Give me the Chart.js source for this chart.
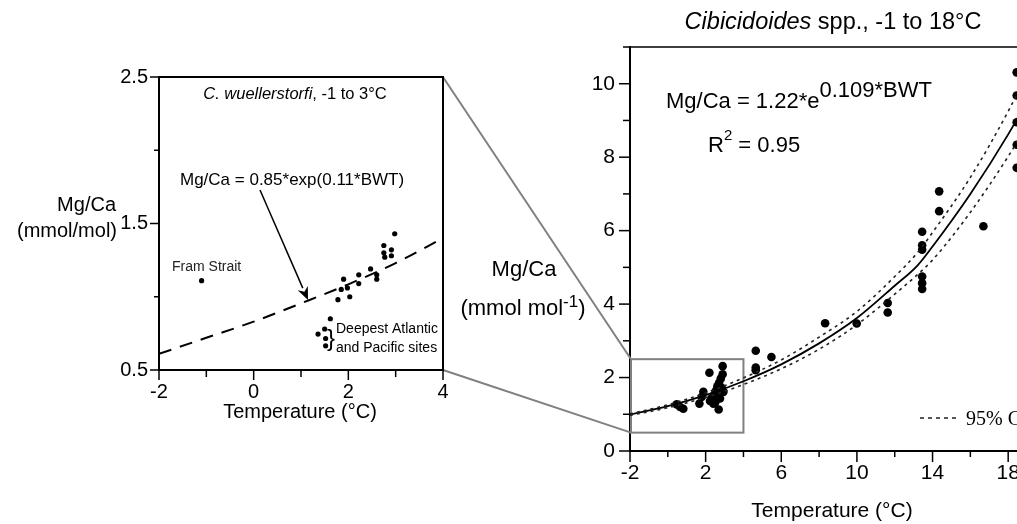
<!DOCTYPE html>
<html>
<head>
<meta charset="utf-8">
<script src="https://cdn.jsdelivr.net/npm/chart.js@4/dist/chart.umd.min.js"></script>
<style>
  html, body { margin: 0; padding: 0; background: #fff; overflow: hidden; width: 1017px; height: 524px; }
  #wrap { position: relative; width: 1017px; height: 524px; overflow: hidden; }
  canvas { position: absolute; left: 0; top: 0; }
</style>
</head>
<body>
<div id="wrap">
  <canvas id="main" width="1100" height="524"></canvas>
  <canvas id="inset" width="1017" height="524"></canvas>
</div>
<script>
const SANS = '"Liberation Sans", Arial, Helvetica, sans-serif';
const SERIF = '"Liberation Serif", "Times New Roman", serif';

// ---- C. wuellerstorfi, -1 to 3 °C (inset panel) ----
const wuelTemp = [-1.10, 1.78, 1.85, 1.90, 1.98, 2.03, 2.22, 2.22, 2.47, 2.60, 2.60, 2.75, 2.75, 2.77, 2.91, 2.91, 2.98,
                  1.62, 1.50, 1.36, 1.52, 1.52];
const wuelMgCa = [1.11, 0.98, 1.05, 1.12, 1.06, 1.00, 1.15, 1.09, 1.19, 1.15, 1.12, 1.35, 1.30, 1.27, 1.32, 1.28, 1.43,
                  0.85, 0.78, 0.745, 0.715, 0.665];
// Mg/Ca = 0.85*exp(0.11*BWT), dashed
const wuelFitTemp = [-2, -1, 0, 1, 2, 3, 4];
const wuelFitMgCa = [0.61, 0.72, 0.83, 0.955, 1.085, 1.23, 1.40];

// ---- Cibicidoides spp., -1 to 18 °C (main panel) ----
const cibTemp = [0.47, 0.65, 0.82, 1.67, 1.79, 1.88, 2.20, 2.23, 2.32, 2.35, 2.41, 2.45, 2.51, 2.53, 2.60, 2.62, 2.69, 2.71,
                 2.76, 2.80, 2.85, 2.90, 2.90, 2.94, 4.65, 4.65, 4.65, 5.48, 8.32, 9.99, 11.63, 11.63,
                 13.45, 13.45, 13.45, 13.45, 13.45, 13.45, 14.35, 14.35, 16.69, 18.45, 18.45, 18.45, 18.45, 18.45];
const cibMgCa = [1.27, 1.20, 1.15, 1.29, 1.47, 1.61, 2.13, 1.36, 1.44, 1.38, 1.29, 1.52, 1.33, 1.63, 1.58, 1.76, 1.13, 1.86,
                 1.43, 1.97, 1.72, 2.31, 2.09, 1.61, 2.73, 2.27, 2.20, 2.56, 3.48, 3.47, 4.03, 3.77,
                 5.97, 5.60, 5.48, 4.75, 4.57, 4.41, 7.07, 6.53, 6.12, 10.31, 9.68, 8.95, 8.34, 7.71];
// Mg/Ca = 1.22*e^(0.109*BWT) with its 95% confidence band
const cibFitTemp  = [-2, 0, 2, 4, 6, 8, 10, 12, 13.2, 14, 16, 18, 19.5];
const cibFitMgCa  = [0.99, 1.22, 1.52, 1.90, 2.36, 2.93, 3.62, 4.50, 5.05, 5.57, 7.00, 8.62, 10.0];
const cibUpperMgCa = [1.01, 1.26, 1.58, 1.99, 2.48, 3.10, 3.80, 4.75, 5.40, 5.95, 7.45, 9.25, 10.8];
const cibLowerMgCa = [0.97, 1.18, 1.46, 1.81, 2.24, 2.77, 3.44, 4.27, 4.80, 5.20, 6.50, 8.02, 9.3];

// zoom box on the main panel (same range as the inset axes)
const boxTemp = [-2, 4];
const boxMgCa = [0.5, 2.5];

// labelled ticks
const insetXLabels = [-2, 0, 2, 4];
const insetYLabels = [0.5, 1.5, 2.5];
const mainXLabels = [-2, 2, 6, 10, 14, 18];
const mainYLabels = [0, 2, 4, 6, 8, 10];

const pts = (xs, ys) => xs.map((x, i) => ({ x: x, y: ys[i] }));
const has = (arr, v) => arr.some(a => Math.abs(a - v) < 1e-6);

// outward tick marks, long at labelled values and short elsewhere
function drawTickMarks(chart, xLabels, yLabels, len) {
  const ctx = chart.ctx, a = chart.chartArea, sx = chart.scales.x, sy = chart.scales.y;
  ctx.save();
  ctx.strokeStyle = '#000';
  ctx.lineWidth = 1.5;
  sx.ticks.forEach(t => {
    const px = sx.getPixelForValue(t.value);
    if (px > a.right + 1) return;
    const l = has(xLabels, t.value) ? len.xMajor : len.xMinor;
    ctx.beginPath(); ctx.moveTo(px, a.bottom); ctx.lineTo(px, a.bottom + l); ctx.stroke();
  });
  sy.ticks.forEach(t => {
    const py = sy.getPixelForValue(t.value);
    const l = has(yLabels, t.value) ? len.yMajor : len.yMinor;
    ctx.beginPath(); ctx.moveTo(a.left, py); ctx.lineTo(a.left - l, py); ctx.stroke();
  });
  ctx.restore();
}

// runs of text in different fonts on one baseline
function mixedText(ctx, parts, x, y, align) {
  ctx.save();
  ctx.textAlign = 'left';
  let total = 0;
  parts.forEach(p => { ctx.font = p.font; total += ctx.measureText(p.t).width; });
  let cx = align === 'center' ? x - total / 2 : (align === 'right' ? x - total : x);
  parts.forEach(p => {
    ctx.font = p.font;
    ctx.fillText(p.t, cx, y + (p.dy || 0));
    cx += ctx.measureText(p.t).width;
  });
  ctx.restore();
}

function arrow(ctx, x1, y1, x2, y2) {
  const ang = Math.atan2(y2 - y1, x2 - x1), hl = 13, hw = 5.5;
  const bx = x2 - hl * Math.cos(ang), by = y2 - hl * Math.sin(ang);
  ctx.beginPath(); ctx.moveTo(x1, y1); ctx.lineTo(bx, by); ctx.stroke();
  ctx.beginPath();
  ctx.moveTo(x2, y2);
  ctx.lineTo(bx + hw * Math.sin(ang), by - hw * Math.cos(ang));
  ctx.lineTo(bx + 4 * Math.cos(ang), by + 4 * Math.sin(ang));
  ctx.lineTo(bx - hw * Math.sin(ang), by + hw * Math.cos(ang));
  ctx.closePath(); ctx.fill();
}

const baseScale = (min, max, step, labels, fmt, pad, size) => ({
  type: 'linear', min: min, max: max,
  grid: { display: false, drawTicks: false },
  border: { display: true, width: 2, color: '#000' },
  ticks: {
    stepSize: step, padding: pad, color: '#000',
    font: { family: SANS, size: size },
    callback: v => has(labels, v) ? fmt(v) : ''
  }
});

// ---------- inset: C. wuellerstorfi ----------
const insetPlugin = {
  id: 'insetDecor',
  afterDraw(chart) {
    const ctx = chart.ctx, a = chart.chartArea;
    ctx.save();
    ctx.strokeStyle = '#000'; ctx.lineWidth = 2;
    ctx.strokeRect(a.left, a.top, a.right - a.left, a.bottom - a.top);
    ctx.restore();
    drawTickMarks(chart, insetXLabels, insetYLabels, { xMajor: 10, xMinor: 7, yMajor: 9, yMinor: 5 });

    ctx.save();
    ctx.fillStyle = '#000';
    ctx.textBaseline = 'alphabetic';
    // panel title inside the frame
    mixedText(ctx, [
      { t: 'C. wuellerstorfi', font: 'italic 16.5px ' + SANS },
      { t: ', -1 to 3°C', font: '16.5px ' + SANS }
    ], 295, 99, 'center');
    // axis titles
    ctx.textAlign = 'right';
    ctx.font = '20px ' + SANS;
    ctx.fillText('Mg/Ca', 116, 211);
    ctx.fillText('(mmol/mol)', 117, 237);
    ctx.textAlign = 'center';
    ctx.fillText('Temperature (°C)', 300, 418);
    // fit annotation with arrow
    ctx.textAlign = 'left';
    ctx.font = '17px ' + SANS;
    ctx.fillText('Mg/Ca = 0.85*exp(0.11*BWT)', 180, 185);
    ctx.strokeStyle = '#000'; ctx.lineWidth = 1.5;
    arrow(ctx, 260, 190, 308, 300);
    // site labels
    ctx.font = '14px ' + SANS;
    ctx.fillStyle = '#222';
    ctx.fillText('Fram Strait', 172, 271);
    ctx.fillStyle = '#000';
    ctx.fillText('Deepest Atlantic', 336, 333);
    ctx.fillText('and Pacific sites', 336, 352);
    ctx.font = '24px ' + SANS;
    ctx.fillText('}', 327, 346);
    ctx.restore();
  }
};

const insetChart = new Chart(document.getElementById('inset'), {
  type: 'scatter',
  data: {
    datasets: [
      {
        data: pts(wuelTemp, wuelMgCa),
        backgroundColor: '#000', borderColor: '#000',
        pointRadius: 2.6, pointBorderWidth: 0
      },
      {
        data: pts(wuelFitTemp, wuelFitMgCa),
        showLine: true, borderColor: '#000', borderWidth: 2, borderDash: [13, 9],
        pointRadius: 0, cubicInterpolationMode: 'monotone', fill: false
      }
    ]
  },
  options: {
    responsive: false, animation: false, devicePixelRatio: 1,
    layout: { padding: { left: 79, top: 77, right: 574, bottom: 114 } },
    plugins: { legend: { display: false }, tooltip: { enabled: false } },
    scales: {
      x: Object.assign(baseScale(-2, 4, 1, insetXLabels, v => String(v), 10, 20),
        { afterFit: s => { s.height = 40; } }),
      y: Object.assign(baseScale(0.5, 2.5, 0.5, insetYLabels, v => v.toFixed(1), 11, 20),
        { afterFit: s => { s.width = 80; } })
    }
  },
  plugins: [insetPlugin]
});

// ---------- main: Cibicidoides spp. ----------
const mainPlugin = {
  id: 'mainDecor',
  beforeDatasetsDraw(chart) {
    const ctx = chart.ctx, sx = chart.scales.x, sy = chart.scales.y;
    const x0 = sx.getPixelForValue(boxTemp[0]) + 1, x1 = sx.getPixelForValue(boxTemp[1]);
    const y0 = sy.getPixelForValue(boxMgCa[1]), y1 = sy.getPixelForValue(boxMgCa[0]);
    ctx.save();
    ctx.strokeStyle = '#808080'; ctx.lineWidth = 2;
    ctx.strokeRect(x0, y0, x1 - x0, y1 - y0);
    // connectors to the inset frame
    const ia = insetChart.chartArea;
    ctx.beginPath();
    ctx.moveTo(ia.right, ia.top); ctx.lineTo(x0, y0);
    ctx.moveTo(ia.right, ia.bottom); ctx.lineTo(x0, y1);
    ctx.stroke();
    ctx.restore();
  },
  afterDraw(chart) {
    const ctx = chart.ctx, a = chart.chartArea;
    ctx.save();
    ctx.strokeStyle = '#000'; ctx.lineWidth = 1.5;
    ctx.beginPath(); ctx.moveTo(a.left, a.top); ctx.lineTo(a.right, a.top); ctx.lineTo(a.right, a.bottom); ctx.stroke();
    ctx.restore();
    drawTickMarks(chart, mainXLabels, mainYLabels, { xMajor: 11, xMinor: 6, yMajor: 11, yMinor: 7 });

    ctx.save();
    ctx.fillStyle = '#000';
    ctx.textBaseline = 'alphabetic';
    mixedText(ctx, [
      { t: 'Cibicidoides', font: 'italic 23.5px ' + SANS },
      { t: ' spp., -1 to 18°C', font: '23.5px ' + SANS }
    ], 833, 29, 'center');
    // fit equation
    mixedText(ctx, [
      { t: 'Mg/Ca = 1.22*e', font: '22px ' + SANS },
      { t: '0.109*BWT', font: '22px ' + SANS, dy: -11 }
    ], 666, 108, 'left');
    mixedText(ctx, [
      { t: 'R', font: '22px ' + SANS },
      { t: '2', font: '15px ' + SANS, dy: -12 },
      { t: ' = 0.95', font: '22px ' + SANS }
    ], 708, 152, 'left');
    // axis titles
    ctx.font = '22px ' + SANS;
    ctx.textAlign = 'center';
    ctx.fillText('Mg/Ca', 524, 276);
    mixedText(ctx, [
      { t: '(mmol mol', font: '22px ' + SANS },
      { t: '-1', font: '17px ' + SANS, dy: -8 },
      { t: ')', font: '22px ' + SANS }
    ], 523, 315, 'center');
    ctx.textAlign = 'center';
    ctx.font = '21px ' + SANS;
    ctx.fillText('Temperature (°C)', 832, 517);
    // confidence band key
    ctx.strokeStyle = '#222'; ctx.lineWidth = 1.5; ctx.setLineDash([4, 4]);
    ctx.beginPath(); ctx.moveTo(920, 418); ctx.lineTo(958, 418); ctx.stroke();
    ctx.setLineDash([]);
    ctx.textAlign = 'left';
    ctx.font = '20px ' + SERIF;
    ctx.fillText('95% CI', 966, 425);
    ctx.restore();
  }
};

new Chart(document.getElementById('main'), {
  type: 'scatter',
  data: {
    datasets: [
      {
        data: pts(cibFitTemp, cibUpperMgCa),
        showLine: true, borderColor: '#222', borderWidth: 1.6, borderDash: [3, 4],
        pointRadius: 0, cubicInterpolationMode: 'monotone', fill: false
      },
      {
        data: pts(cibFitTemp, cibLowerMgCa),
        showLine: true, borderColor: '#222', borderWidth: 1.6, borderDash: [3, 4],
        pointRadius: 0, cubicInterpolationMode: 'monotone', fill: false
      },
      {
        data: pts(cibFitTemp, cibFitMgCa),
        showLine: true, borderColor: '#000', borderWidth: 1.8,
        pointRadius: 0, cubicInterpolationMode: 'monotone', fill: false
      },
      {
        data: pts(cibTemp, cibMgCa),
        backgroundColor: '#000', borderColor: '#000',
        pointRadius: 4.3, pointBorderWidth: 0
      }
    ]
  },
  options: {
    responsive: false, animation: false, devicePixelRatio: 1,
    layout: { padding: { left: 550, top: 47, right: 54, bottom: 33 } },
    plugins: { legend: { display: false }, tooltip: { enabled: false } },
    scales: {
      x: Object.assign(baseScale(-2, 20, 2, mainXLabels, v => String(v), 10, 21),
        { afterFit: s => { s.height = 40; } }),
      y: Object.assign(baseScale(0, 11, 1, mainYLabels, v => String(v), 15, 21),
        { afterFit: s => { s.width = 80; } })
    }
  },
  plugins: [mainPlugin]
});
</script>
</body>
</html>
